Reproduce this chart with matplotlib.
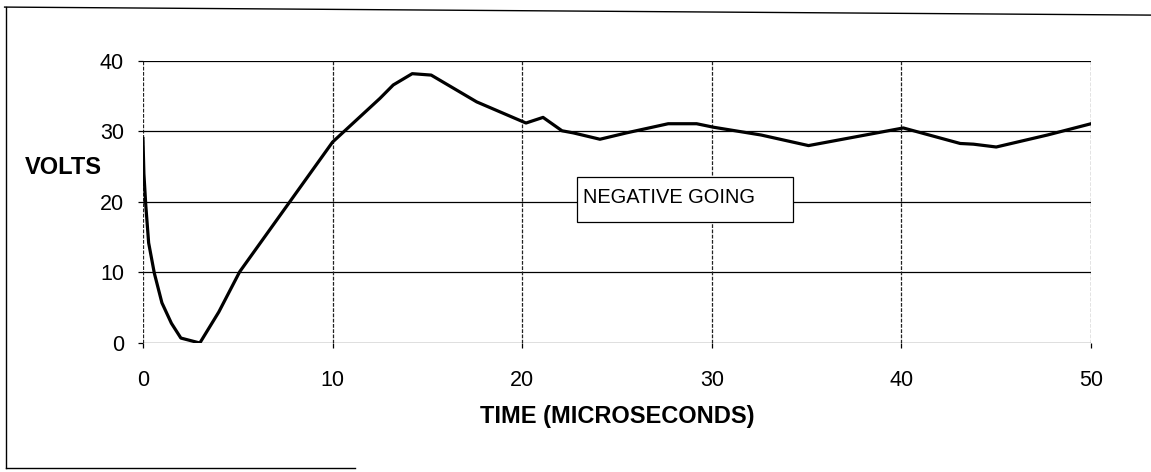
import matplotlib.pyplot as plt
from matplotlib.lines import Line2D
from matplotlib.patches import Rectangle

plt.rcParams['font.family'] = ['Liberation Sans', 'DejaVu Sans']

# waveform samples, time in microseconds
time_us = [0.0, 0.05, 0.15, 0.3, 0.6, 1.0, 1.5, 2.0, 3.0, 4.0, 5.1, 10.0, 12.5,
           13.2, 14.2, 15.2, 17.6, 20.2, 21.1, 22.1, 22.7, 24.1, 25.5, 27.7,
           29.2, 30.1, 32.6, 35.1, 40.1, 43.1, 43.8, 45.0, 47.7, 50.0]
volts = [29.0, 24.0, 19.5, 14.2, 9.9, 5.7, 2.8, 0.7, 0.0, 4.4, 10.1, 28.5, 34.7,
         36.6, 38.2, 38.0, 34.2, 31.2, 32.0, 30.1, 29.8, 28.9, 29.8, 31.1,
         31.1, 30.6, 29.5, 28.0, 30.5, 28.3, 28.2, 27.8, 29.5, 31.1]

x_ticks = [0, 10, 20, 30, 40, 50]
y_ticks = [0, 10, 20, 30, 40]

fig = plt.figure(figsize=(11.51, 4.72), dpi=100)
ax = fig.add_axes([0.1242, 0.2733, 0.8237, 0.5975])

for s in ax.spines.values():
    s.set_visible(False)

for yv in y_ticks:
    ax.axhline(yv, color='black', lw=0.9, zorder=1)
for xv in x_ticks:
    ax.axvline(xv, color='#222222', lw=0.9, ls=(0, (3, 1.2)), zorder=1)

ax.plot(time_us, volts, color='black', lw=2.3, solid_joinstyle='round', zorder=3)

ax.set_xlim(0, 50)
ax.set_ylim(0, 40)
ax.set_xticks(x_ticks)
ax.set_yticks(y_ticks)
ax.tick_params(axis='both', length=3.6, width=0.9, color='black', labelsize=15.5)
ax.tick_params(axis='x', pad=16)
ax.tick_params(axis='y', pad=10)

ax.set_xlabel('TIME (MICROSECONDS)', fontsize=17, fontweight='bold', labelpad=10)
fig.text(0.055, 0.645, 'VOLTS', fontsize=17, fontweight='bold',
         ha='center', va='center')

# label box for the trace
ax.add_patch(Rectangle((22.9, 17.2), 11.4, 6.3, fc='white', ec='black', lw=0.9, zorder=4))
ax.text(23.2, 20.7, 'NEGATIVE GOING', fontsize=14.4, va='center', ha='left', zorder=5)

# scanned page border
fig.add_artist(Line2D([0.004, 1.0], [0.985, 0.968], color='black', lw=1.0))
fig.add_artist(Line2D([0.005, 0.005], [0.985, 0.008], color='black', lw=1.0))
fig.add_artist(Line2D([0.005, 0.308], [0.008, 0.008], color='black', lw=1.0))

fig.savefig('out.png', dpi=100)
